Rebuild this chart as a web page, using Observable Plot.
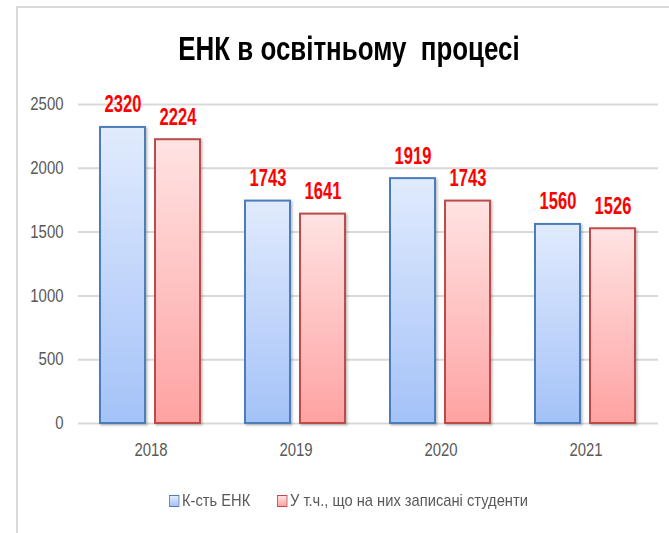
<!DOCTYPE html>
<html>
<head>
<meta charset="utf-8">
<script src="https://cdn.jsdelivr.net/npm/d3@7"></script>
<script src="https://cdn.jsdelivr.net/npm/@observablehq/plot@0.6"></script>
<style>
  html, body { margin: 0; padding: 0; background: #fff; }
  body { width: 669px; height: 533px; position: relative; overflow: hidden;
         font-family: "Liberation Sans", Arial, sans-serif; }
  #frame { position: absolute; left: 16px; top: 6px; width: 700px; height: 600px;
           border-left: 2px solid #d9d9d9; border-top: 2px solid #d9d9d9; box-sizing: border-box; }
  #title { position: absolute; left: 99px; width: 500px; top: 32px; text-align: center;
           font-size: 33px; line-height: 33px; font-weight: bold; color: #000; white-space: pre;
           transform: scaleX(0.785); transform-origin: 250px 50%; }
  #chart { position: absolute; left: 0; top: 85px; }
  .item { position: absolute; top: 492px; display: flex; align-items: center;
          font-size: 17px; line-height: 17px; color: #595959; white-space: nowrap;
          transform: scaleX(0.865); transform-origin: 0 50%; }
  .sw { width: 10px; height: 10px; margin-right: 3px; display: inline-block; }
</style>
</head>
<body>
<div id="frame"></div>
<div id="title">ЕНК в освітньому  процесі</div>
<div id="chart"></div>
<script>
const years = ["2018", "2019", "2020", "2021"];
const seriesNames = ["К-сть ЕНК", "У т.ч., що на них записані студенти"];
const enkCount = [2320, 1743, 1919, 1560];
const studentCount = [2224, 1641, 1743, 1526];
const yTicks = [0, 500, 1000, 1500, 2000, 2500];

const seriesStyle = [
  { fill: "url(#gBlue)", stroke: "#4a7ebb", top: "#e1ebfd", bottom: "#a4c2f8", legendLeft: 169 },
  { fill: "url(#gRed)", stroke: "#be4b48", top: "#ffe3e3", bottom: "#fea3a2", legendLeft: 277 }
];

const data = years.flatMap((y, i) => [
  { year: y, series: seriesNames[0], value: enkCount[i] },
  { year: y, series: seriesNames[1], value: studentCount[i] }
]);

const font = '"Liberation Sans", Arial, sans-serif';

const barMarks = seriesNames.map((s, k) =>
  Plot.barY(data.filter(d => d.series === s), {
    fx: "year", x: "series", y: "value",
    fill: seriesStyle[k].fill, stroke: seriesStyle[k].stroke, strokeWidth: 2
  })
);

const chart = Plot.plot({
  width: 669,
  height: 385,
  marginTop: 19,
  marginBottom: 47,
  marginLeft: 78,
  marginRight: 11,
  style: { fontFamily: font, fontSize: "18px", color: "#595959", background: "transparent", overflow: "visible" },
  fx: { domain: years, padding: 0, label: null },
  x: { domain: seriesNames, paddingInner: 0.1786, paddingOuter: 0.384, axis: null },
  y: { domain: [0, 2500], label: null },
  marks: [
    Plot.gridY(yTicks, { stroke: "#d9d9d9", strokeOpacity: 1, strokeWidth: 2 }),
    Plot.axisY(yTicks, { tickSize: 0, tickPadding: 15, label: null, fill: "#595959", fontSize: 18, tickFormat: d => String(d) }),
    Plot.axisFx({ anchor: "bottom", tickSize: 0, tickPadding: 20, label: null, fill: "#595959", fontSize: 18 }),
    ...barMarks,
    Plot.text(data, {
      fx: "year", x: "series", y: "value",
      text: d => String(d.value),
      fill: "#ff0000", fontWeight: "bold", fontSize: 23,
      lineAnchor: "bottom", dy: -15
    })
  ]
});

const svgEl = chart.tagName.toLowerCase() === "svg" ? chart : chart.querySelector("svg");
document.getElementById("chart").appendChild(chart);
const svg = d3.select(svgEl);

// gradients and shadow
const defs = svg.insert("defs", ":first-child");
[["gBlue", 0], ["gRed", 1]].forEach(([id, k]) => {
  const g = defs.append("linearGradient").attr("id", id).attr("x1", 0).attr("y1", 0).attr("x2", 0).attr("y2", 1);
  g.append("stop").attr("offset", "0%").attr("stop-color", seriesStyle[k].top);
  g.append("stop").attr("offset", "100%").attr("stop-color", seriesStyle[k].bottom);
});
const f = defs.append("filter").attr("id", "shadow").attr("x", "-20%").attr("y", "-20%").attr("width", "150%").attr("height", "150%");
f.append("feDropShadow").attr("dx", 1.5).attr("dy", 1.5).attr("stdDeviation", 1.2)
  .attr("flood-color", "#000").attr("flood-opacity", 0.25);
svg.selectAll("rect").filter(function () {
  const fl = this.getAttribute("fill") || (this.parentNode && this.parentNode.getAttribute && this.parentNode.getAttribute("fill")) || "";
  return fl.startsWith("url(");
}).attr("filter", "url(#shadow)");

// narrow the text horizontally (reference uses a condensed face)
const isNum = v => v !== null && /^-?[\d.]+(e-?\d+)?$/.test(v.trim());
svg.selectAll("text").each(function () {
  const red = getComputedStyle(this).fill === "rgb(255, 0, 0)";
  const sx = red ? 0.72 : 0.83;
  const xa = this.getAttribute("x");
  const ya = this.getAttribute("y");
  let x = 0, y = 0;
  if (isNum(xa)) { x = +xa; this.removeAttribute("x"); }
  if (isNum(ya)) { y = +ya; this.removeAttribute("y"); }
  const t = this.getAttribute("transform") || "";
  this.setAttribute("transform", `${t} translate(${x},${y}) scale(${sx},1)`);
});

// legend
seriesNames.forEach((s, k) => {
  const item = document.createElement("div");
  item.className = "item";
  item.style.left = seriesStyle[k].legendLeft + "px";
  const sw = document.createElement("span");
  sw.className = "sw";
  sw.style.background = `linear-gradient(${seriesStyle[k].top}, ${seriesStyle[k].bottom})`;
  sw.style.border = `1.5px solid ${seriesStyle[k].stroke}`;
  const t = document.createElement("span");
  t.textContent = s;
  item.appendChild(sw);
  item.appendChild(t);
  document.body.appendChild(item);
});
</script>
</body>
</html>
